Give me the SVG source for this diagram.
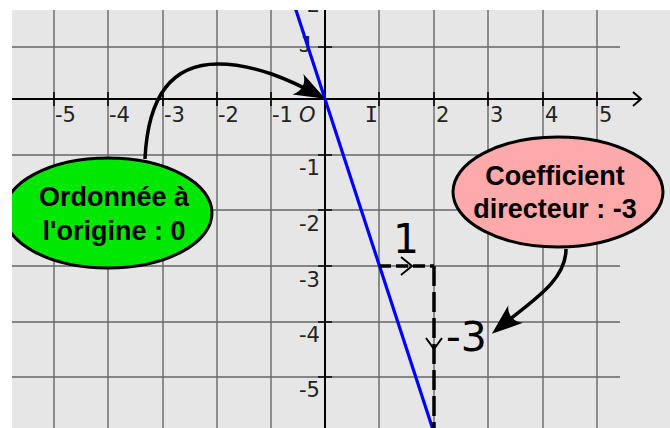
<svg xmlns="http://www.w3.org/2000/svg" width="670" height="428" viewBox="0 0 670 428">
  <defs>
    <clipPath id="plot"><rect x="12" y="10" width="658" height="418"/></clipPath>
    <marker id="swept" markerUnits="userSpaceOnUse" markerWidth="44" markerHeight="34" refX="0" refY="0" orient="auto" overflow="visible" viewBox="-34 -17 44 34">
      <path d="M6,0 L-25,-11.5 C-18,-4.5 -18,4.5 -25,11.5 Z" fill="#000"/>
    </marker>
  </defs>
  <style>
    .grid { stroke: #666; stroke-width: 1.4; fill: none; }
    .axis { stroke: #000; stroke-width: 2; fill: none; }
    .tick { stroke: #000; stroke-width: 1.6; }
    .lbl { font-family: "DejaVu Sans", sans-serif; font-size: 21px; fill: #222; }
    .ylbl { font-family: "DejaVu Sans", sans-serif; font-size: 21px; fill: #222; text-anchor: end; }
    .mono { font-family: "DejaVu Sans Mono", monospace; font-size: 22px; fill: #222; text-anchor: end; }
    .dash { stroke: #000; stroke-width: 3.5; fill: none; }
    .chev { stroke: #000; stroke-width: 2; fill: none; }
    .big { font-family: "DejaVu Sans", sans-serif; font-size: 41px; fill: #000; }
    .node { stroke: #000; stroke-width: 3; }
    .ntxt { font-family: "Liberation Sans", Arial, sans-serif; font-weight: bold; font-size: 27px; fill: #000; text-anchor: middle; }
    .conn { stroke: #000; stroke-width: 3.5; fill: none; marker-end: url(#swept); }
  </style>
  <rect x="0" y="0" width="670" height="428" fill="#ffffff"/>
  <g clip-path="url(#plot)">
    <rect x="12" y="10" width="658" height="418" fill="#e6e6e6"/>
    <g id="grid">
      <path class="grid" d="M54,10V428 M108,10V428 M163,10V428 M217,10V428 M271,10V428 M379,10V428 M434,10V428 M488,10V428 M543,10V428 M597,10V428"/>
      <path class="grid" d="M12,47H620 M12,155H620 M12,210H620 M12,266H620 M12,322H620 M12,377H620"/>
    </g>
    <g id="axes">
      <path class="axis" d="M12,99H641"/>
      <path class="axis" d="M633,92L641,99L633,106"/>
      <path class="axis" d="M325,0V428"/>
      <path class="tick" d="M54,92V106 M108,92V106 M163,92V106 M217,92V106 M271,92V106 M379,92V106 M434,92V106 M488,92V106 M543,92V106 M597,92V106"/>
      <path class="tick" d="M318,47H332 M318,155H332 M318,210H332 M318,266H332 M318,322H332 M318,377H332"/>
    </g>
    <g id="axis-labels">
      <text class="lbl" x="55" y="122">-5</text>
      <text class="lbl" x="109" y="122">-4</text>
      <text class="lbl" x="164" y="122">-3</text>
      <text class="lbl" x="218" y="122">-2</text>
      <text class="lbl" x="272" y="122">-1</text>
      <text class="lbl" x="299" y="122" font-style="italic" font-size="23px">O</text>
      <text class="mono" x="378" y="122">I</text>
      <text class="lbl" x="436" y="122">2</text>
      <text class="lbl" x="490" y="122">3</text>
      <text class="lbl" x="545" y="122">4</text>
      <text class="lbl" x="599" y="122">5</text>
      <text class="ylbl" x="320" y="12">2</text>
      <text class="mono" x="312" y="52">J</text>
      <text class="ylbl" x="320" y="175">-1</text>
      <text class="ylbl" x="320" y="231">-2</text>
      <text class="ylbl" x="320" y="287">-3</text>
      <text class="ylbl" x="320" y="342">-4</text>
      <text class="ylbl" x="320" y="397">-5</text>
    </g>
    <g id="line">
      <path d="M289.4,-10L439.6,450" stroke="#0000ff" stroke-width="3.2" fill="none"/>
    </g>
    <g id="slope">
      <path class="dash" d="M379,266H434" stroke-dasharray="12,5"/>
      <path class="dash" d="M434,266V430" stroke-dasharray="20,6"/>
      <path class="chev" d="M401,257L412,266L401,275"/>
      <path class="chev" d="M426,338L434,349L442,338"/>
      <text class="big" x="393" y="253">1</text>
      <text class="big" x="446" y="351">-3</text>
    </g>
    <g id="node-ordonnee">
      <ellipse class="node" cx="108" cy="213" rx="104" ry="55" fill="#00e800"/>
      <text class="ntxt" x="114" y="206">Ordonnée à</text>
      <text class="ntxt" x="114" y="240">l'origine : 0</text>
    </g>
    <g id="node-coefficient">
      <ellipse class="node" cx="558" cy="192" rx="105" ry="55" fill="#ffaaaa"/>
      <text class="ntxt" x="555" y="185">Coefficient</text>
      <text class="ntxt" x="555" y="218">directeur : -3</text>
    </g>
    <g id="connectors">
      <path class="conn" d="M145,159 C147,115 160,64 218,64 C255,64 290,80 320,96"/>
      <path class="conn" d="M566,249 C566,282 530,302 496.5,330"/>
    </g>
  </g>
</svg>
